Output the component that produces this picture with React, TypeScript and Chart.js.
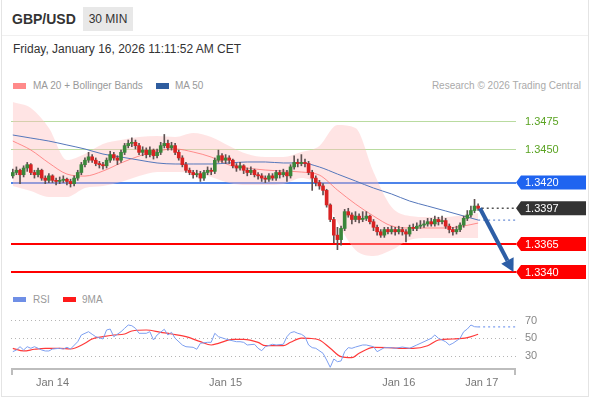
import React, { useEffect, useRef } from 'react';
import { Chart, registerables } from 'chart.js';

Chart.register(...registerables);

const FONT = '"Liberation Sans", Arial, Helvetica, sans-serif';

// ---- Candles (30 min bars, index 0..129) ----
const opens = [
  1.3426,1.3429,1.3431,1.3427,1.3433,1.3436,1.3429,1.3427,1.3431,1.3424,
  1.3422,1.3426,1.3422,1.3421,1.3422,1.3423,1.3421,1.3419,1.3424,1.3429,
  1.3436,1.3440,1.3443,1.3440,1.3437,1.3436,1.3435,1.3440,1.3445,1.3442,
  1.3440,1.3447,1.3453,1.3455,1.3456,1.3453,1.3447,1.3449,1.3445,1.3449,
  1.3444,1.3447,1.3453,1.3455,1.3451,1.3453,1.3447,1.3442,1.3436,1.3431,
  1.3429,1.3427,1.3428,1.3424,1.3429,1.3431,1.3430,1.3440,1.3444,1.3440,
  1.3442,1.3440,1.3435,1.3433,1.3435,1.3431,1.3429,1.3431,1.3427,1.3426,
  1.3424,1.3423,1.3426,1.3424,1.3429,1.3427,1.3429,1.3426,1.3434,1.3438,
  1.3437,1.3438,1.3437,1.3429,1.3424,1.3420,1.3417,1.3413,1.3400,1.3387,
  1.3373,1.3369,1.3379,1.3394,1.3391,1.3387,1.3390,1.3387,1.3388,1.3390,
  1.3385,1.3380,1.3376,1.3373,1.3378,1.3376,1.3378,1.3376,1.3378,1.3376,
  1.3374,1.3380,1.3379,1.3381,1.3382,1.3383,1.3385,1.3383,1.3387,1.3385,
  1.3386,1.3381,1.3378,1.3376,1.3378,1.3382,1.3388,1.3391,1.3395,1.3399,
];
const closes = [
  1.3429,1.3431,1.3427,1.3433,1.3436,1.3429,1.3427,1.3431,1.3424,1.3422,
  1.3426,1.3422,1.3421,1.3422,1.3423,1.3421,1.3419,1.3424,1.3429,1.3436,
  1.3440,1.3443,1.3440,1.3437,1.3436,1.3435,1.3440,1.3445,1.3442,1.3440,
  1.3447,1.3453,1.3455,1.3456,1.3453,1.3447,1.3449,1.3445,1.3449,1.3444,
  1.3447,1.3453,1.3455,1.3451,1.3453,1.3447,1.3442,1.3436,1.3431,1.3429,
  1.3427,1.3428,1.3424,1.3429,1.3431,1.3430,1.3440,1.3444,1.3440,1.3442,
  1.3440,1.3435,1.3433,1.3435,1.3431,1.3429,1.3431,1.3427,1.3426,1.3424,
  1.3423,1.3426,1.3424,1.3429,1.3427,1.3429,1.3426,1.3434,1.3438,1.3437,
  1.3438,1.3437,1.3429,1.3424,1.3420,1.3417,1.3413,1.3400,1.3387,1.3373,
  1.3369,1.3379,1.3394,1.3391,1.3387,1.3390,1.3387,1.3388,1.3390,1.3385,
  1.3380,1.3376,1.3373,1.3378,1.3376,1.3378,1.3376,1.3378,1.3376,1.3374,
  1.3380,1.3379,1.3381,1.3382,1.3383,1.3385,1.3383,1.3387,1.3385,1.3386,
  1.3381,1.3378,1.3376,1.3378,1.3382,1.3388,1.3391,1.3395,1.3399,1.3397,
];
const highs = [
  1.3432,1.3434,1.3432,1.3435,1.3438,1.3437,1.3431,1.3433,1.3432,1.3426,
  1.3428,1.3427,1.3424,1.3425,1.3426,1.3424,1.3423,1.3426,1.3431,1.3438,
  1.3442,1.3447,1.3445,1.3442,1.3439,1.3438,1.3442,1.3448,1.3447,1.3444,
  1.3449,1.3455,1.3458,1.3460,1.3458,1.3455,1.3452,1.3451,1.3452,1.3450,
  1.3450,1.3456,1.3463,1.3458,1.3456,1.3455,1.3449,1.3444,1.3438,1.3433,
  1.3431,1.3431,1.3430,1.3431,1.3434,1.3433,1.3442,1.3449,1.3446,1.3445,
  1.3444,1.3441,1.3437,1.3438,1.3436,1.3433,1.3434,1.3432,1.3429,1.3428,
  1.3426,1.3428,1.3428,1.3431,1.3431,1.3432,1.3431,1.3436,1.3444,1.3441,
  1.3445,1.3441,1.3439,1.3431,1.3426,1.3422,1.3419,1.3414,1.3401,1.3389,
  1.3380,1.3381,1.3396,1.3397,1.3393,1.3394,1.3392,1.3394,1.3394,1.3391,
  1.3387,1.3382,1.3378,1.3380,1.3380,1.3381,1.3380,1.3381,1.3380,1.3378,
  1.3382,1.3383,1.3384,1.3386,1.3386,1.3388,1.3388,1.3390,1.3389,1.3390,
  1.3388,1.3383,1.3380,1.3381,1.3384,1.3390,1.3395,1.3399,1.3405,1.3401,
];
const lows = [
  1.3424,1.3427,1.3419,1.3425,1.3430,1.3427,1.3424,1.3425,1.3422,1.3419,
  1.3420,1.3420,1.3418,1.3419,1.3420,1.3418,1.3416,1.3417,1.3422,1.3427,
  1.3434,1.3438,1.3438,1.3435,1.3433,1.3432,1.3433,1.3438,1.3440,1.3436,
  1.3438,1.3445,1.3451,1.3452,1.3450,1.3445,1.3444,1.3442,1.3443,1.3441,
  1.3442,1.3445,1.3451,1.3449,1.3449,1.3445,1.3440,1.3434,1.3429,1.3427,
  1.3424,1.3425,1.3421,1.3422,1.3427,1.3427,1.3428,1.3438,1.3438,1.3437,
  1.3437,1.3433,1.3430,1.3431,1.3428,1.3426,1.3427,1.3425,1.3423,1.3421,
  1.3420,1.3421,1.3422,1.3422,1.3424,1.3425,1.3421,1.3424,1.3432,1.3434,
  1.3435,1.3434,1.3427,1.3413,1.3417,1.3414,1.3409,1.3398,1.3385,1.3366,
  1.3360,1.3364,1.3377,1.3389,1.3383,1.3385,1.3384,1.3385,1.3386,1.3383,
  1.3377,1.3373,1.3371,1.3371,1.3374,1.3374,1.3373,1.3374,1.3373,1.3367,
  1.3372,1.3377,1.3377,1.3379,1.3380,1.3381,1.3381,1.3381,1.3382,1.3383,
  1.3379,1.3375,1.3373,1.3374,1.3376,1.3380,1.3386,1.3389,1.3393,1.3395,
];

// ---- Indicators (sampled at bar indices) ----
const maIdx = [0,5,10,15,20,25,30,35,40,45,50,55,60,65,70,75,80,85,90,95,100,105,110,115,120,125,129];
const ma20 = [1.34571,1.34491,1.34375,1.34276,1.34258,1.34303,1.34375,1.34437,1.34482,1.34500,1.34473,1.34428,1.34357,1.34330,1.34312,1.34303,1.34294,1.34267,1.34133,1.34008,1.33901,1.33812,1.33794,1.33794,1.33794,1.33812,1.33838];
const ma50 = [1.34625,1.34598,1.34571,1.34536,1.34500,1.34455,1.34428,1.34401,1.34375,1.34366,1.34366,1.34366,1.34375,1.34384,1.34384,1.34375,1.34375,1.34339,1.34276,1.34214,1.34151,1.34098,1.34035,1.33990,1.33946,1.33901,1.33865];
const bbUpper = [1.34920,1.34866,1.34687,1.34401,1.34455,1.34544,1.34580,1.34607,1.34616,1.34607,1.34643,1.34607,1.34527,1.34455,1.34428,1.34428,1.34473,1.34527,1.34714,1.34687,1.34294,1.33981,1.33901,1.33892,1.33892,1.33910,1.33928];
const bbLower = [1.34169,1.34124,1.34071,1.34071,1.34151,1.34169,1.34205,1.34258,1.34294,1.34294,1.34285,1.34250,1.34196,1.34178,1.34178,1.34187,1.34241,1.34160,1.33847,1.33597,1.33544,1.33597,1.33687,1.33704,1.33704,1.33704,1.33704];

const rsiIdx = [0,1,2,3,4,5,6,7,8,9,10,11,13,14,15,16,18,19,21,22,23,25,26,27,28,30,31,32,33,34,35,37,38,39,40,42,43,44,45,47,48,50,51,52,54,55,56,57,59,60,62,63,64,65,67,68,69,70,72,73,75,76,77,78,79,80,81,82,83,84,86,87,88,89,90,91,92,93,94,95,97,98,100,101,103,105,106,108,110,112,114,116,117,118,120,121,122,124,125,126,127,128,129];
const rsi = [34.5,36.4,40.1,36.4,40.1,38.3,40.1,38.3,36.4,35.3,35.3,37.5,38.3,37.5,39.4,37.5,45.7,53.2,56.9,54.0,51.3,48.7,58.8,59.9,51.3,56.9,60.7,64.4,63.6,60.7,55.1,55.1,56.9,47.6,53.2,59.6,53.2,56.2,49.5,42.0,40.1,39.4,37.2,43.9,45.0,45.0,55.1,51.3,48.7,47.6,45.7,45.7,45.0,42.0,42.8,38.3,35.6,40.1,42.8,42.0,42.8,51.3,55.8,56.9,55.1,54.0,51.3,42.0,39.0,38.3,32.7,25.2,17.0,26.3,23.3,24.1,34.5,39.0,38.3,39.7,42.0,42.0,40.1,34.5,39.0,39.0,38.3,39.7,38.3,42.0,45.7,49.5,53.2,49.5,45.7,42.0,43.9,49.5,56.9,59.9,64.4,62.5,62.2];
const rsiMaIdx = [0,3,6,9,13,16,20,22,25,28,31,33,37,41,44,48,52,55,57,61,64,68,70,75,77,80,82,85,88,91,94,96,100,104,107,111,115,118,122,126,129];
const rsiMa = [38.3,35.3,37.2,38.3,38.3,37.5,43.9,48.7,51.3,53.2,54.3,57.7,58.8,56.2,54.3,51.3,45.7,42.0,43.9,48.4,48.4,45.0,41.2,41.2,45.0,49.8,49.5,47.6,38.3,28.9,27.8,32.7,39.4,39.0,38.3,38.3,41.2,47.6,48.7,50.2,54.0];

// ---- Levels / ticks ----
const resistances = [1.3475, 1.345];
const pivotLevel = 1.342;
const lastPrice = 1.3397;
const supports = [1.3365, 1.334];
const rsiLevels = [70, 50, 30];
const xTickIdx = [11, 59, 107, 130];
const xTickLabels = ['Jan 14', 'Jan 15', 'Jan 16', 'Jan 17'];
const arrowFrom = [129.5, 1.3397];
const arrowTo = [138.8, 1.334];

const X_MIN = -0.5;
const X_MAX = 139.5;
const PRICE_MIN = 1.33329;
const PRICE_MAX = 1.34938;
const RSI_MIN = 15.1;
const RSI_MAX = 86.81;

const GREEN = '#3a863a';
const RED = '#d92222';

const pts = (idx: number[], vals: number[]) => idx.map((x, k) => ({ x, y: vals[k] }));

const pricePlugin = {
  id: 'priceDecor',
  beforeDatasetsDraw(chart: any) {
    const { ctx, chartArea: a, scales } = chart;
    const y = scales.y;
    ctx.save();
    const hline = (v: number, color: string, w: number) => {
      const py = Math.round(y.getPixelForValue(v)) + (w === 1 ? 0.5 : 0);
      ctx.strokeStyle = color;
      ctx.lineWidth = w;
      ctx.beginPath();
      ctx.moveTo(a.left, py);
      ctx.lineTo(a.right, py);
      ctx.stroke();
    };
    resistances.forEach((v) => hline(v, '#b9dba0', 1));
    hline(pivotLevel, '#4d84ea', 2);
    supports.forEach((v) => hline(v, '#ff0000', 2));
    ctx.restore();
  },
  afterDatasetsDraw(chart: any) {
    const { ctx, chartArea: a, scales } = chart;
    const x = scales.x;
    const y = scales.y;
    ctx.save();
    ctx.setLineDash([2, 3]);
    ctx.lineWidth = 1.2;
    ctx.strokeStyle = '#6c8fd6';
    let py = y.getPixelForValue(ma50[ma50.length - 1]);
    ctx.beginPath();
    ctx.moveTo(x.getPixelForValue(maIdx[maIdx.length - 1]), py);
    ctx.lineTo(a.right, py);
    ctx.stroke();
    ctx.strokeStyle = '#555';
    ctx.lineWidth = 1.5;
    py = y.getPixelForValue(lastPrice);
    ctx.beginPath();
    ctx.moveTo(x.getPixelForValue(opens.length), py);
    ctx.lineTo(a.right, py);
    ctx.stroke();
    ctx.setLineDash([]);

    const x0 = x.getPixelForValue(arrowFrom[0]);
    const y0 = y.getPixelForValue(arrowFrom[1]);
    const x1 = x.getPixelForValue(arrowTo[0]);
    const y1 = y.getPixelForValue(arrowTo[1]);
    const ang = Math.atan2(y1 - y0, x1 - x0);
    const hl = 13, hw = 7;
    const bx = x1 - hl * Math.cos(ang);
    const by = y1 - hl * Math.sin(ang);
    ctx.strokeStyle = '#2d5ea6';
    ctx.fillStyle = '#2d5ea6';
    ctx.lineWidth = 4;
    ctx.beginPath();
    ctx.moveTo(x0, y0);
    ctx.lineTo(bx, by);
    ctx.stroke();
    ctx.beginPath();
    ctx.moveTo(x1, y1);
    ctx.lineTo(bx + hw * Math.sin(ang), by - hw * Math.cos(ang));
    ctx.lineTo(bx - hw * Math.sin(ang), by + hw * Math.cos(ang));
    ctx.closePath();
    ctx.fill();

    ctx.font = '11px ' + FONT;
    ctx.textBaseline = 'middle';
    ctx.textAlign = 'left';
    resistances.forEach((v) => {
      ctx.fillStyle = '#5aa322';
      ctx.fillText(v.toFixed(4), a.right + 9, y.getPixelForValue(v) + 0.5);
    });
    const tag = (v: number, bg: string) => {
      const p = y.getPixelForValue(v);
      const L = a.right;
      const R = L + 70;
      const h = 7;
      ctx.fillStyle = bg;
      ctx.beginPath();
      ctx.moveTo(L, p);
      ctx.lineTo(L + 5, p - h);
      ctx.lineTo(R, p - h);
      ctx.lineTo(R, p + h);
      ctx.lineTo(L + 5, p + h);
      ctx.closePath();
      ctx.fill();
      ctx.fillStyle = '#fff';
      ctx.fillText(v.toFixed(4), L + 9, p + 0.5);
    };
    tag(pivotLevel, '#1f64f0');
    tag(lastPrice, '#333333');
    supports.forEach((v) => tag(v, '#ff0000'));
    ctx.restore();
  },
};

const rsiPlugin = {
  id: 'rsiDecor',
  beforeDatasetsDraw(chart: any) {
    const { ctx, chartArea: a, scales } = chart;
    const y = scales.y;
    ctx.save();
    ctx.setLineDash([1, 3]);
    ctx.strokeStyle = '#b5b5b5';
    ctx.lineWidth = 1;
    rsiLevels.forEach((v) => {
      const py = Math.round(y.getPixelForValue(v)) + 0.5;
      ctx.beginPath();
      ctx.moveTo(a.left, py);
      ctx.lineTo(a.right, py);
      ctx.stroke();
    });
    ctx.restore();
  },
  afterDatasetsDraw(chart: any) {
    const { ctx, chartArea: a, scales } = chart;
    const x = scales.x;
    const y = scales.y;
    ctx.save();
    ctx.setLineDash([2, 3]);
    ctx.strokeStyle = '#7d9ff0';
    ctx.lineWidth = 1.2;
    const py = y.getPixelForValue(rsi[rsi.length - 1]);
    ctx.beginPath();
    ctx.moveTo(x.getPixelForValue(rsiIdx[rsiIdx.length - 1]), py);
    ctx.lineTo(a.right, py);
    ctx.stroke();
    ctx.setLineDash([]);
    ctx.font = '11px ' + FONT;
    ctx.textBaseline = 'middle';
    ctx.textAlign = 'left';
    ctx.fillStyle = '#888';
    rsiLevels.forEach((v) => ctx.fillText(String(v), a.right + 9, y.getPixelForValue(v) + 0.5));
    ctx.strokeStyle = '#bdbdbd';
    ctx.lineWidth = 2;
    ctx.beginPath();
    ctx.moveTo(a.left, a.bottom);
    ctx.lineTo(a.right, a.bottom);
    ctx.stroke();
    ctx.beginPath();
    ctx.moveTo(a.left + 1, a.bottom);
    ctx.lineTo(a.left + 1, a.bottom + 6);
    ctx.moveTo(a.right - 1, a.bottom);
    ctx.lineTo(a.right - 1, a.bottom + 6);
    ctx.stroke();
    ctx.fillStyle = '#777';
    ctx.textAlign = 'center';
    xTickIdx.forEach((t, k) => ctx.fillText(xTickLabels[k], x.getPixelForValue(t), a.bottom + 14));
    ctx.restore();
  },
};

export default function App() {
  const priceRef = useRef<HTMLCanvasElement>(null);
  const rsiRef = useRef<HTMLCanvasElement>(null);

  useEffect(() => {
    const bodies = opens.map((o, i) => ({ x: i, y: [o, closes[i]] }));
    const wicks = lows.map((l, i) => ({ x: i, y: [l, highs[i]] }));
    const priceChart = new Chart(priceRef.current as HTMLCanvasElement, {
      type: 'bar',
      data: {
        datasets: [
          {
            type: 'bar',
            data: bodies as any,
            backgroundColor: opens.map((o, i) => (closes[i] >= o ? GREEN : RED)),
            grouped: false,
            barPercentage: 1,
            categoryPercentage: 1,
            maxBarThickness: 3,
            minBarLength: 1,
            borderWidth: 0,
            order: 1,
          } as any,
          {
            type: 'bar',
            data: wicks as any,
            backgroundColor: '#5e5252',
            grouped: false,
            barPercentage: 1,
            categoryPercentage: 1,
            maxBarThickness: 1,
            borderWidth: 0,
            order: 2,
          } as any,
          {
            type: 'line',
            data: pts(maIdx, ma50) as any,
            borderColor: '#5577bb',
            borderWidth: 1,
            pointRadius: 0,
            cubicInterpolationMode: 'monotone',
            fill: false,
            order: 3,
          } as any,
          {
            type: 'line',
            data: pts(maIdx, ma20) as any,
            borderColor: 'rgba(255,110,110,0.75)',
            borderWidth: 1,
            pointRadius: 0,
            cubicInterpolationMode: 'monotone',
            fill: false,
            order: 3,
          } as any,
          {
            type: 'line',
            data: pts(maIdx, bbUpper) as any,
            borderWidth: 0,
            borderColor: 'rgba(0,0,0,0)',
            backgroundColor: 'rgba(255,190,190,0.42)',
            pointRadius: 0,
            cubicInterpolationMode: 'monotone',
            fill: '+1',
            order: 5,
          } as any,
          {
            type: 'line',
            data: pts(maIdx, bbLower) as any,
            borderWidth: 0,
            borderColor: 'rgba(0,0,0,0)',
            pointRadius: 0,
            cubicInterpolationMode: 'monotone',
            fill: false,
            order: 6,
          } as any,
        ],
      },
      options: {
        responsive: false,
        animation: false,
        events: [],
        layout: { padding: { left: 11, right: 74, top: 5, bottom: 10 } },
        plugins: { legend: { display: false }, tooltip: { enabled: false } },
        scales: {
          x: { type: 'linear', min: X_MIN, max: X_MAX, offset: false, display: false },
          y: { type: 'linear', min: PRICE_MIN, max: PRICE_MAX, beginAtZero: false, display: false },
        },
      } as any,
      plugins: [pricePlugin],
    });

    const rsiChart = new Chart(rsiRef.current as HTMLCanvasElement, {
      type: 'line',
      data: {
        datasets: [
          {
            data: pts(rsiIdx, rsi) as any,
            borderColor: '#7d9ff0',
            borderWidth: 1,
            pointRadius: 0,
            tension: 0,
            fill: false,
          },
          {
            data: pts(rsiMaIdx, rsiMa) as any,
            borderColor: '#ff3a3a',
            borderWidth: 1.2,
            pointRadius: 0,
            cubicInterpolationMode: 'monotone',
            fill: false,
          },
        ],
      },
      options: {
        responsive: false,
        animation: false,
        events: [],
        layout: { padding: { left: 11, right: 74, top: 15, bottom: 31 } },
        plugins: { legend: { display: false }, tooltip: { enabled: false } },
        scales: {
          x: { type: 'linear', min: X_MIN, max: X_MAX, display: false },
          y: { type: 'linear', min: RSI_MIN, max: RSI_MAX, display: false },
        },
      } as any,
      plugins: [rsiPlugin],
    });

    return () => {
      priceChart.destroy();
      rsiChart.destroy();
    };
  }, []);

  const abs = (s: React.CSSProperties): React.CSSProperties => ({ position: 'absolute', ...s });
  const legendText: React.CSSProperties = { fontSize: 10, color: '#999', lineHeight: '12px', whiteSpace: 'nowrap' };

  return (
    <div style={{ position: 'fixed', left: 0, top: 0, width: 590, height: 400, background: '#fff', fontFamily: FONT, overflow: 'hidden' }}>
      <div style={abs({ left: 1, top: -1, width: 588, height: 398, boxSizing: 'border-box', border: '1px solid #e4e4e4' })} />
      <div style={abs({ left: 2, top: 35, width: 586, height: 1, background: '#f0f0f0' })} />
      <div style={abs({ left: 12, top: 12, fontSize: 14, fontWeight: 'bold', color: '#333', lineHeight: '14px' })}>GBP/USD</div>
      <div style={abs({ left: 83, top: 7, width: 50, height: 24, background: '#e8e8e8', color: '#333', fontSize: 12, lineHeight: '24px', textAlign: 'center' })}>30 MIN</div>
      <div style={abs({ left: 13, top: 42, fontSize: 12, color: '#333', lineHeight: '14px', whiteSpace: 'nowrap' })}>Friday, January 16, 2026 11:11:52 AM CET</div>

      <div style={abs({ left: 13, top: 83, width: 13, height: 6, background: '#ff8a8a' })} />
      <div style={abs({ left: 33, top: 80, ...legendText })}>MA 20 + Bollinger Bands</div>
      <div style={abs({ left: 156, top: 83, width: 13, height: 6, background: '#2f5d9f' })} />
      <div style={abs({ left: 175, top: 80, ...legendText })}>MA 50</div>
      <div style={abs({ right: 9, top: 80, ...legendText, color: '#aaa' })}>Research © 2026 Trading Central</div>

      <canvas ref={priceRef} width={590} height={195} style={abs({ left: 0, top: 95, width: 590, height: 195, display: 'block' })} />

      <div style={abs({ left: 13, top: 297, width: 13, height: 5, background: '#6f8fe6' })} />
      <div style={abs({ left: 33, top: 294, ...legendText })}>RSI</div>
      <div style={abs({ left: 63, top: 297, width: 13, height: 5, background: '#ff1a1a' })} />
      <div style={abs({ left: 82, top: 294, ...legendText })}>9MA</div>

      <canvas ref={rsiRef} width={590} height={110} style={abs({ left: 0, top: 290, width: 590, height: 110, display: 'block' })} />
    </div>
  );
}
